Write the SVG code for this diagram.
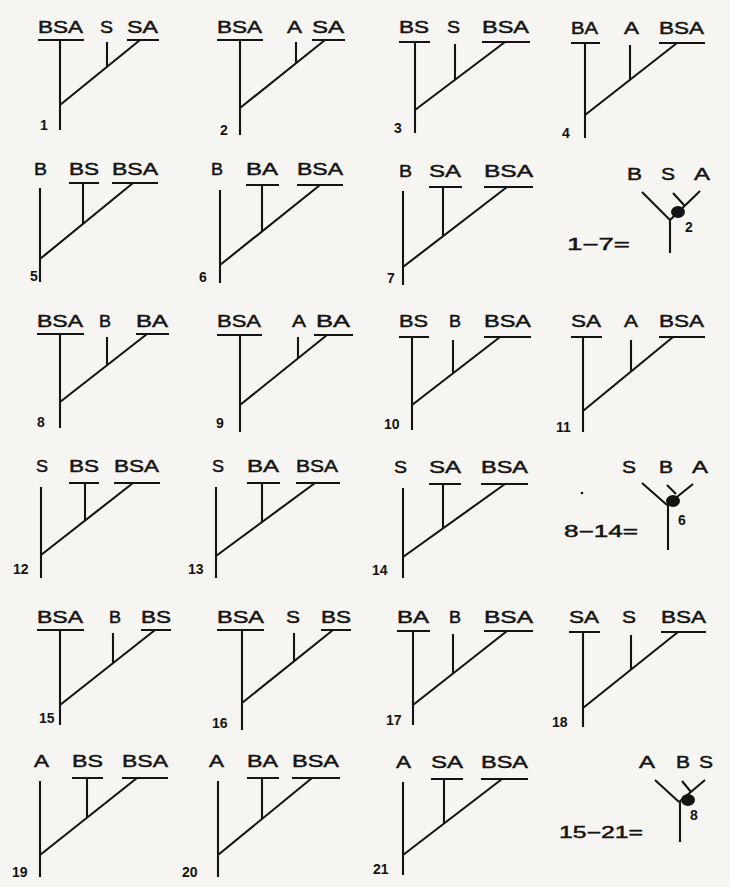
<svg xmlns="http://www.w3.org/2000/svg" width="730" height="887" viewBox="0 0 730 887">
<style>
.t{font-family:"Liberation Sans",Arial,sans-serif;font-size:16px;fill:#141414;stroke:#141414;stroke-width:0.45}
.n{font-family:"Liberation Sans",Arial,sans-serif;font-size:14px;font-weight:bold;fill:#141414}
.l{stroke:#141414;stroke-width:2.1;fill:none}
.dot{fill:#141414}
</style>
<rect width="730" height="887" fill="#f6f5f1"/>

<g id="c1">
<text class="t" x="38" y="33" textLength="45" lengthAdjust="spacingAndGlyphs">BSA</text>
<text class="t" x="100" y="33" textLength="13" lengthAdjust="spacingAndGlyphs">S</text>
<text class="t" x="127" y="33" textLength="31" lengthAdjust="spacingAndGlyphs">SA</text>
<text class="n" x="40" y="130">1</text>
<g class="l"><path d="M38 40H84M127 40H159M60 40V130M60 105L140 40M107 42V66.8"/></g>
</g>

<g id="c2">
<text class="t" x="217" y="33" textLength="45" lengthAdjust="spacingAndGlyphs">BSA</text>
<text class="t" x="287" y="33" textLength="15" lengthAdjust="spacingAndGlyphs">A</text>
<text class="t" x="312" y="33" textLength="32" lengthAdjust="spacingAndGlyphs">SA</text>
<text class="n" x="220" y="135">2</text>
<g class="l"><path d="M217 40H263M312 40H345M240 40V135M240 108L325 40M296 42V63.2"/></g>
</g>

<g id="c3">
<text class="t" x="399" y="33" textLength="30" lengthAdjust="spacingAndGlyphs">BS</text>
<text class="t" x="447" y="33" textLength="13" lengthAdjust="spacingAndGlyphs">S</text>
<text class="t" x="482" y="33" textLength="47" lengthAdjust="spacingAndGlyphs">BSA</text>
<text class="n" x="394" y="133">3</text>
<g class="l"><path d="M399 42H430M482 42H530M415 42V133M415 110L505 42M455 44V79.8"/></g>
</g>

<g id="c4">
<text class="t" x="571" y="34" textLength="27" lengthAdjust="spacingAndGlyphs">BA</text>
<text class="t" x="624" y="34" textLength="15" lengthAdjust="spacingAndGlyphs">A</text>
<text class="t" x="659" y="34" textLength="45" lengthAdjust="spacingAndGlyphs">BSA</text>
<text class="n" x="562" y="138">4</text>
<g class="l"><path d="M571 43H600M659 43H705M585 43V138M585 115L677 43M630 45V79.8"/></g>
</g>

<g id="c5">
<text class="t" x="34" y="175" textLength="13" lengthAdjust="spacingAndGlyphs">B</text>
<text class="t" x="69" y="175" textLength="30" lengthAdjust="spacingAndGlyphs">BS</text>
<text class="t" x="112" y="175" textLength="46" lengthAdjust="spacingAndGlyphs">BSA</text>
<text class="n" x="30" y="281">5</text>
<g class="l"><path d="M69 183H99M112 183H158M40 188V282M40 259L133 183M83 183V223.9"/></g>
</g>

<g id="c6">
<text class="t" x="211" y="175" textLength="12" lengthAdjust="spacingAndGlyphs">B</text>
<text class="t" x="246" y="175" textLength="32" lengthAdjust="spacingAndGlyphs">BA</text>
<text class="t" x="297" y="175" textLength="46" lengthAdjust="spacingAndGlyphs">BSA</text>
<text class="n" x="199" y="282">6</text>
<g class="l"><path d="M246 185H279M297 185H343M220 190V283M220 265L320 185M262 185V231.4"/></g>
</g>

<g id="c7">
<text class="t" x="399" y="177" textLength="13" lengthAdjust="spacingAndGlyphs">B</text>
<text class="t" x="429" y="177" textLength="32" lengthAdjust="spacingAndGlyphs">SA</text>
<text class="t" x="484" y="177" textLength="49" lengthAdjust="spacingAndGlyphs">BSA</text>
<text class="n" x="387" y="283">7</text>
<g class="l"><path d="M429 187H462M484 187H533M403 191V285M403 267L507 187M443 187V236.2"/></g>
</g>

<g id="y1">
<text class="t" x="627" y="180" textLength="15" lengthAdjust="spacingAndGlyphs">B</text>
<text class="t" x="661" y="180" textLength="14" lengthAdjust="spacingAndGlyphs">S</text>
<text class="t" x="694" y="180" textLength="16" lengthAdjust="spacingAndGlyphs">A</text>
<text class="t" x="567" y="250" textLength="63" lengthAdjust="spacingAndGlyphs">1−7=</text>
<text class="n" x="685" y="232">2</text>
<g class="l"><path d="M642 192L670 220M700 191L670 220M673 193L684 205M670 220V253"/></g>
<ellipse class="dot" cx="678" cy="212" rx="7" ry="6"/>
</g>

<g id="c8">
<text class="t" x="37" y="327" textLength="46" lengthAdjust="spacingAndGlyphs">BSA</text>
<text class="t" x="99" y="327" textLength="12" lengthAdjust="spacingAndGlyphs">B</text>
<text class="t" x="136" y="327" textLength="32" lengthAdjust="spacingAndGlyphs">BA</text>
<text class="n" x="37" y="427">8</text>
<g class="l"><path d="M37 334H84M136 334H169M60 334V428M60 402L147 334M107 337V365.3"/></g>
</g>

<g id="c9">
<text class="t" x="217" y="327" textLength="44" lengthAdjust="spacingAndGlyphs">BSA</text>
<text class="t" x="292" y="327" textLength="14" lengthAdjust="spacingAndGlyphs">A</text>
<text class="t" x="316" y="327" textLength="34" lengthAdjust="spacingAndGlyphs">BA</text>
<text class="n" x="216" y="428">9</text>
<g class="l"><path d="M217 335H262M314 335H353M240 335V432M240 405L327 335M298 337V358.3"/></g>
</g>

<g id="c10">
<text class="t" x="399" y="327" textLength="29" lengthAdjust="spacingAndGlyphs">BS</text>
<text class="t" x="449" y="327" textLength="12" lengthAdjust="spacingAndGlyphs">B</text>
<text class="t" x="484" y="327" textLength="47" lengthAdjust="spacingAndGlyphs">BSA</text>
<text class="n" x="384" y="429">10</text>
<g class="l"><path d="M399 337H429M484 337H531M412 337V430M412 405L500 337M453 340V373.3"/></g>
</g>

<g id="c11">
<text class="t" x="571" y="327" textLength="30" lengthAdjust="spacingAndGlyphs">SA</text>
<text class="t" x="624" y="327" textLength="14" lengthAdjust="spacingAndGlyphs">A</text>
<text class="t" x="659" y="327" textLength="45" lengthAdjust="spacingAndGlyphs">BSA</text>
<text class="n" x="556" y="432">11</text>
<g class="l"><path d="M571 337H602M659 337H705M583 337V432M583 411L673 337M631 340V371.5"/></g>
</g>

<g id="c12">
<text class="t" x="36" y="472" textLength="12" lengthAdjust="spacingAndGlyphs">S</text>
<text class="t" x="69" y="472" textLength="30" lengthAdjust="spacingAndGlyphs">BS</text>
<text class="t" x="114" y="472" textLength="45" lengthAdjust="spacingAndGlyphs">BSA</text>
<text class="n" x="13" y="574">12</text>
<g class="l"><path d="M69 483H99M114 483H160M41 487V578M41 555L133 483M85 483V520.6"/></g>
</g>

<g id="c13">
<text class="t" x="212" y="472" textLength="12" lengthAdjust="spacingAndGlyphs">S</text>
<text class="t" x="247" y="472" textLength="32" lengthAdjust="spacingAndGlyphs">BA</text>
<text class="t" x="296" y="472" textLength="42" lengthAdjust="spacingAndGlyphs">BSA</text>
<text class="n" x="188" y="574">13</text>
<g class="l"><path d="M247 483H280M296 483H340M216 487V578M216 556L315 483M262 483V522.1"/></g>
</g>

<g id="c14">
<text class="t" x="394" y="473" textLength="13" lengthAdjust="spacingAndGlyphs">S</text>
<text class="t" x="429" y="473" textLength="32" lengthAdjust="spacingAndGlyphs">SA</text>
<text class="t" x="481" y="473" textLength="47" lengthAdjust="spacingAndGlyphs">BSA</text>
<text class="n" x="372" y="575">14</text>
<g class="l"><path d="M429 484H461M481 484H528M403 488V578M403 557L505 484M443 484V528.4"/></g>
</g>

<g id="y2">
<text class="t" x="622" y="473" textLength="14" lengthAdjust="spacingAndGlyphs">S</text>
<text class="t" x="659" y="473" textLength="14" lengthAdjust="spacingAndGlyphs">B</text>
<text class="t" x="692" y="473" textLength="16" lengthAdjust="spacingAndGlyphs">A</text>
<text class="t" x="564" y="537" textLength="74" lengthAdjust="spacingAndGlyphs">8−14=</text>
<text class="n" x="678" y="525">6</text>
<g class="l"><path d="M642 483L667 505M693 484L667 505M667 485L676 494M668 505V550"/></g>
<ellipse class="dot" cx="673" cy="501" rx="7" ry="6"/>
<circle class="dot" cx="582" cy="493" r="1.3"/>
</g>

<g id="c15">
<text class="t" x="37" y="623" textLength="46" lengthAdjust="spacingAndGlyphs">BSA</text>
<text class="t" x="109" y="623" textLength="12" lengthAdjust="spacingAndGlyphs">B</text>
<text class="t" x="141" y="623" textLength="30" lengthAdjust="spacingAndGlyphs">BS</text>
<text class="n" x="39" y="723">15</text>
<g class="l"><path d="M37 630H84M141 630H171M60 630V725M60 705L155 630M113 633V663.2"/></g>
</g>

<g id="c16">
<text class="t" x="217" y="623" textLength="47" lengthAdjust="spacingAndGlyphs">BSA</text>
<text class="t" x="286" y="623" textLength="14" lengthAdjust="spacingAndGlyphs">S</text>
<text class="t" x="321" y="623" textLength="30" lengthAdjust="spacingAndGlyphs">BS</text>
<text class="n" x="212" y="728">16</text>
<g class="l"><path d="M217 630H264M321 630H351M242 630V730M242 703L333 630M294 633V661.3"/></g>
</g>

<g id="c17">
<text class="t" x="397" y="623" textLength="32" lengthAdjust="spacingAndGlyphs">BA</text>
<text class="t" x="449" y="623" textLength="12" lengthAdjust="spacingAndGlyphs">B</text>
<text class="t" x="484" y="623" textLength="49" lengthAdjust="spacingAndGlyphs">BSA</text>
<text class="n" x="386" y="725">17</text>
<g class="l"><path d="M397 631H430M484 631H533M413 631V725M413 705L507 631M453 634V673.5"/></g>
</g>

<g id="c18">
<text class="t" x="569" y="623" textLength="30" lengthAdjust="spacingAndGlyphs">SA</text>
<text class="t" x="622" y="623" textLength="14" lengthAdjust="spacingAndGlyphs">S</text>
<text class="t" x="661" y="623" textLength="45" lengthAdjust="spacingAndGlyphs">BSA</text>
<text class="n" x="552" y="727">18</text>
<g class="l"><path d="M569 632H600M661 632H706M583 632V727M583 708L678 632M631 635V669.6"/></g>
</g>

<g id="c19">
<text class="t" x="34" y="767" textLength="15" lengthAdjust="spacingAndGlyphs">A</text>
<text class="t" x="72" y="767" textLength="31" lengthAdjust="spacingAndGlyphs">BS</text>
<text class="t" x="122" y="767" textLength="46" lengthAdjust="spacingAndGlyphs">BSA</text>
<text class="n" x="12" y="877">19</text>
<g class="l"><path d="M72 778H103M122 778H168M40 781V877M40 855L137 778M87 778V817.7"/></g>
</g>

<g id="c20">
<text class="t" x="209" y="767" textLength="15" lengthAdjust="spacingAndGlyphs">A</text>
<text class="t" x="247" y="767" textLength="31" lengthAdjust="spacingAndGlyphs">BA</text>
<text class="t" x="292" y="767" textLength="47" lengthAdjust="spacingAndGlyphs">BSA</text>
<text class="n" x="182" y="877">20</text>
<g class="l"><path d="M247 778H279M292 778H340M218 781V877M218 855L312 778M262 778V819"/></g>
</g>

<g id="c21">
<text class="t" x="396" y="768" textLength="15" lengthAdjust="spacingAndGlyphs">A</text>
<text class="t" x="431" y="768" textLength="32" lengthAdjust="spacingAndGlyphs">SA</text>
<text class="t" x="481" y="768" textLength="47" lengthAdjust="spacingAndGlyphs">BSA</text>
<text class="n" x="373" y="874">21</text>
<g class="l"><path d="M431 779H463M481 779H528M403 782V875M403 855L502 779M444 779V823.5"/></g>
</g>

<g id="y3">
<text class="t" x="639" y="768" textLength="16" lengthAdjust="spacingAndGlyphs">A</text>
<text class="t" x="676" y="768" textLength="14" lengthAdjust="spacingAndGlyphs">B</text>
<text class="t" x="699" y="768" textLength="14" lengthAdjust="spacingAndGlyphs">S</text>
<text class="t" x="559" y="838" textLength="84" lengthAdjust="spacingAndGlyphs">15−21=</text>
<text class="n" x="690" y="820">8</text>
<g class="l"><path d="M655 780L679 802M705 780L679 802M682 781L691 792M680 802V842"/></g>
<ellipse class="dot" cx="688" cy="800" rx="7" ry="6"/>
</g>
</svg>
